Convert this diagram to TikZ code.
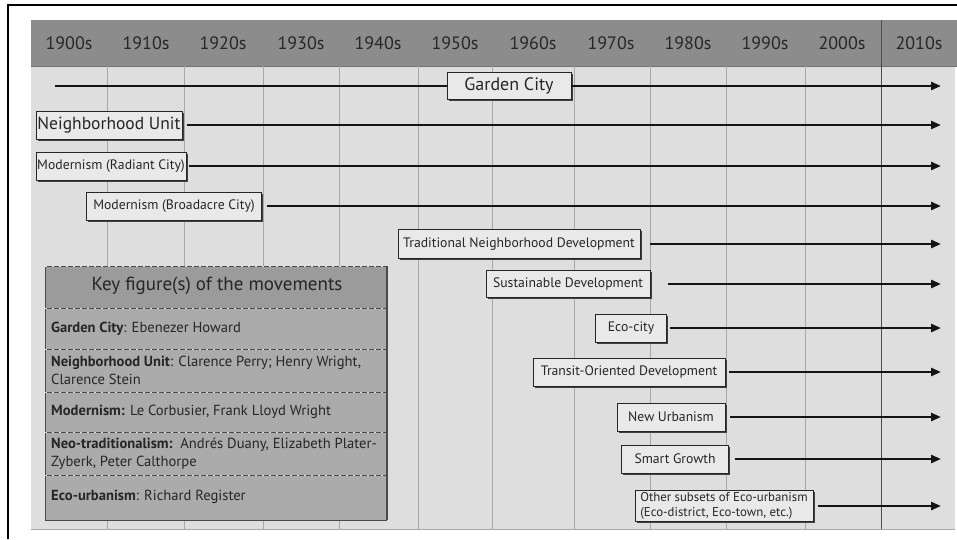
\documentclass[tikz,border=0pt]{standalone}
\usepackage{fontspec}
\setmainfont{PT Sans}
\usetikzlibrary{arrows.meta,shadows}

\definecolor{hdr}{HTML}{8C8C8C}
\definecolor{bodyfill}{HTML}{DEDEDE}
\definecolor{gridc}{HTML}{A8A8A8}
\definecolor{boxfill}{HTML}{E9E9E9}
\definecolor{ink}{HTML}{262626}
\definecolor{keyhead}{HTML}{9B9B9B}
\definecolor{keyrow}{HTML}{ABABAB}
\definecolor{keyline}{HTML}{4A4A4A}

\tikzset{
  era/.style={draw=ink, line width=0.7pt, fill=boxfill, text=ink, inner sep=0pt,
    font=\fontsize{13.7}{15}\selectfont,
    drop shadow={shadow xshift=1.8pt, shadow yshift=-1.8pt, fill=black!75, opacity=1}},
  spanarrow/.style={line width=2.6pt, draw=black!92, -{Triangle[length=10pt,width=8pt]}},
  spanline/.style={line width=2.6pt, draw=black!92},
  decade/.style={text=ink, font=\fontsize{18}{20}\selectfont},
  keytext/.style={anchor=west, text=ink, align=left, inner sep=0pt,
    font=\fontsize{14.6}{18}\selectfont},
}

\begin{document}
\begin{tikzpicture}[x=1pt, y=-1pt]
\useasboundingbox (0,0) rectangle (957,539);
\fill[white] (0,0) rectangle (957,539);

% outer frame
\draw[line width=2pt, black] (8,539) -- (8,5) -- (957,5);

% decade header and timeline field
\fill[bodyfill] (31,66) rectangle (955,529);
\draw[gridc, line width=0.8pt] (31,529) -- (955,529);
\fill[hdr] (31,20) rectangle (957,66);
\draw[black!55, line width=0.6pt] (31,66) -- (957,66);

\foreach \gx in {107,184,263,339,418,492,574,650,726,805}
  \draw[gridc, line width=0.8pt] (\gx,66) -- (\gx,529);
\draw[black!70, line width=0.9pt] (881,20) -- (881,529);

\foreach \lbl/\cx in {1900/69,1910/146,1920/223,1930/301,1940/378,1950/455,
                      1960/533,1970/611,1980/688,1990/765,2000/842,2010/919}
  \node[decade] (d\lbl) at (\cx,43) {\lbl s};

% key figures table
\fill[keyhead] (45,266) rectangle (387,308);
\fill[keyrow] (45,308) rectangle (387,520);
\foreach \ry in {266,308,349,392,432,475,520}
  \draw[keyline, line width=0.8pt] (45,\ry) -- (387,\ry);
\draw[keyline, line width=0.8pt] (45,266) -- (45,520);
\draw[keyline, line width=1.4pt] (387,266) -- (387,520);
\foreach \ry in {266,308,349,392,432,475}
  \draw[white!75!gray, line width=0.6pt, dash pattern=on 2pt off 5pt] (45,\ry) -- (387,\ry);

\node[text=ink, font=\fontsize{19}{21}\selectfont] (keytitle) at (217,286) {Key figure(s) of the movements};
\node[keytext] (kgc) at (51,328.5) {\textbf{Garden City}: Ebenezer Howard};
\node[keytext] (knu) at (51,370.5) {\textbf{Neighborhood Unit}: Clarence Perry; Henry Wright,\\Clarence Stein};
\node[keytext] (kmo) at (51,412) {\textbf{Modernism:} Le Corbusier, Frank Lloyd Wright};
\node[keytext] (knt) at (51,453.5) {\textbf{Neo-traditionalism:}\ \ Andrés Duany, Elizabeth Plater-\\Zyberk, Peter Calthorpe};
\node[keytext] (keu) at (51,497) {\textbf{Eco-urbanism}: Richard Register};

% movement boxes
\node[era, minimum width=124pt, minimum height=27pt, font=\fontsize{18}{20}\selectfont] (gc) at (509,86) {Garden City};
\node[era, minimum width=146pt, minimum height=28pt, font=\fontsize{17.5}{19}\selectfont] (nu) at (109,125) {Neighborhood Unit};
\node[era, minimum width=150pt, minimum height=28pt] (rc) at (111,166) {Modernism (Radiant City)};
\node[era, minimum width=175pt, minimum height=28pt] (bc) at (174,206) {Modernism (Broadacre City)};
\node[era, minimum width=242pt, minimum height=29pt] (tnd) at (519,244) {Traditional Neighborhood Development};
\node[era, minimum width=164pt, minimum height=27pt] (sd) at (568,284) {Sustainable Development};
\node[era, minimum width=71pt, minimum height=28pt] (ec) at (631,328) {Eco-city};
\node[era, minimum width=192pt, minimum height=28pt] (tod) at (629,372) {Transit-Oriented Development};
\node[era, minimum width=108pt, minimum height=28pt] (nw) at (671,417) {New Urbanism};
\node[era, minimum width=107pt, minimum height=28pt] (sg) at (675,459) {Smart Growth};
\node[era, minimum width=178pt, minimum height=31pt, align=left, inner xsep=1pt,
      font=\fontsize{12.8}{15}\selectfont] (os) at (724,506)
      {Other subsets of Eco-urbanism\\(Eco-district, Eco-town, etc.)};

% span ends
\coordinate (gc-start) at (55,86);
\foreach \n/\yy in {gc/86,nu/125,rc/166,bc/206,tnd/244,sd/284,ec/328,tod/372,nw/417,sg/459,os/506}
  \coordinate (\n-end) at (941,\yy);

% timelines
\draw[spanline] (gc-start) -- (gc.west);
\draw[spanarrow] (gc.east) -- (gc-end);
\draw[spanarrow, shorten <=5pt] (nu.east) -- (nu-end);
\draw[spanarrow, shorten <=3pt] (rc.east) -- (rc-end);
\draw[spanarrow, shorten <=5pt] (bc.east) -- (bc-end);
\draw[spanarrow, shorten <=10pt] (tnd.east) -- (tnd-end);
\draw[spanarrow, shorten <=18pt] (sd.east) -- (sd-end);
\draw[spanarrow, shorten <=3pt] (ec.east) -- (ec-end);
\draw[spanarrow, shorten <=4pt] (tod.east) -- (tod-end);
\draw[spanarrow, shorten <=5pt] (nw.east) -- (nw-end);
\draw[spanarrow, shorten <=6pt] (sg.east) -- (sg-end);
\draw[spanarrow, shorten <=5pt] (os.east) -- (os-end);
\end{tikzpicture}
\end{document}
